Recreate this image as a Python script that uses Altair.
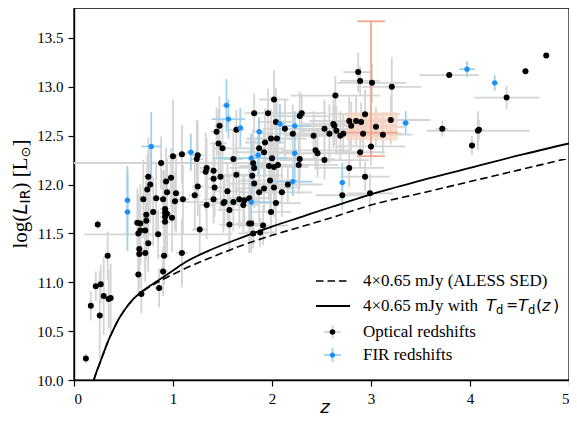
import altair as alt
import pandas as pd

# ---------------- data ----------------
z_opt = [2.02,1.82,1.96,1.47,1.44,1.64,2.30,2.28,2.13,2.04,
         2.42,2.53,1.93,1.99,2.05,1.46,1.50,1.87,1.92,2.21,
         2.44,2.46,1.09,1.00,1.25,1.24,1.61,0.88,2.00,2.28,
         2.27,2.53,1.97,2.02,2.06,1.81,1.82,1.80,0.75,0.98,
         0.93,1.33,1.34,1.41,1.48,1.41,1.64,1.82,1.98,2.16,
         1.92,2.02,1.87,2.10,0.77,0.74,0.94,1.03,1.25,1.22,
         1.10,1.02,0.70,0.83,0.90,1.41,1.55,1.67,1.72,1.77,
         2.04,1.52,1.61,1.34,1.42,1.51,1.57,1.71,1.99,1.79,
         1.77,1.57,1.27,0.85,0.67,0.64,0.72,0.67,0.65,0.80,
         0.73,0.73,0.92,0.92,0.94,0.92,0.92,0.99,0.75,0.66,
         0.72,0.66,0.91,1.09,0.90,0.65,0.68,0.86,0.24,0.34,
         0.22,0.27,0.30,0.35,0.37,0.17,0.26,0.12,1.91,1.81,
         1.88,2.87,2.89,3.01,3.21,2.64,2.94,2.78,2.85,2.90,
         2.80,3.20,3.05,2.62,2.63,2.58,2.65,2.72,2.69,2.92,
         3.12,3.00,2.89,2.78,2.94,2.71,2.99,3.79,4.56,4.77,
         4.37,3.72,4.08,4.09,4.02]
L_opt = [12.87,12.73,12.73,12.60,12.54,12.56,12.73,12.70,12.57,12.64,
         12.50,12.57,12.43,12.47,12.47,12.42,12.37,12.37,12.33,12.52,
         12.35,12.32,12.31,12.29,12.30,12.26,12.26,12.22,12.27,12.26,
         12.20,12.25,12.19,12.18,12.20,12.22,12.17,12.09,12.08,12.07,
         12.03,12.13,12.17,12.14,12.08,12.06,12.10,12.01,12.04,12.00,
         11.96,11.97,11.92,11.92,12.00,11.95,11.92,11.91,11.98,11.89,
         11.85,11.83,11.85,11.86,11.85,11.85,11.93,11.85,11.84,11.86,
         11.81,11.82,11.82,11.79,11.97,11.81,11.74,11.79,11.72,11.60,
         11.60,11.59,11.54,11.49,11.60,11.61,11.53,11.53,11.50,11.72,
         11.69,11.63,11.75,11.71,11.70,11.62,11.67,11.66,11.40,11.34,
         11.30,11.29,11.27,11.30,11.11,11.08,10.88,10.94,11.59,11.27,
         10.96,10.98,10.86,10.83,10.84,10.76,10.66,10.22,11.58,11.50,
         11.51,13.15,13.06,13.04,13.00,12.91,12.72,12.65,12.65,12.64,
         12.60,12.66,12.59,12.62,12.60,12.52,12.55,12.52,12.50,12.52,
         12.51,12.39,12.33,12.17,12.08,11.89,11.91,13.12,13.16,13.32,
         12.89,12.57,12.55,12.56,12.40]
zerr_opt = [0.15,0.10,0.12,0.05,0.06,0.08,0.25,0.30,0.20,0.18,
            0.30,0.40,0.20,0.25,0.30,0.08,0.10,0.25,0.30,0.35,
            0.35,0.40,0.05,0.05,0.06,0.07,0.10,0.90,0.30,0.35,
            0.40,0.45,0.30,0.35,0.30,0.20,0.25,0.30,0.05,0.05,
            0.04,0.06,0.07,0.08,0.10,0.08,0.12,0.25,0.30,0.35,
            0.30,0.25,0.20,0.30,0.04,0.04,0.05,0.05,0.06,0.06,
            0.06,0.05,0.04,0.05,0.05,0.10,0.15,0.12,0.15,0.20,
            0.25,0.40,0.10,0.08,0.08,0.10,0.12,0.15,0.20,0.15,
            0.12,0.10,0.08,0.75,0.04,0.04,0.04,0.04,0.04,0.05,
            0.04,0.04,0.05,0.05,0.05,0.05,0.05,0.05,0.05,0.04,
            0.04,0.04,0.05,0.06,0.05,0.04,0.04,0.05,0.02,0.03,
            0.02,0.02,0.02,0.03,0.03,0.02,0.02,0.02,0.25,0.15,
            0.15,0.15,0.20,0.35,0.30,0.45,0.35,0.40,0.30,0.25,
            0.45,0.40,0.30,0.35,0.40,0.45,0.35,0.30,0.45,0.40,
            0.30,0.35,0.25,0.35,0.25,0.27,0.23,0.30,0.03,0.02,
            0.33,0.06,0.52,0.05,0.03]
Lerr_opt = [0.30,0.20,0.25,0.30,0.25,0.20,0.20,0.25,0.30,0.35,
            0.25,0.30,0.35,0.30,0.40,0.35,0.30,0.30,0.25,0.30,
            0.20,0.25,0.30,0.58,0.35,0.40,0.30,0.27,0.35,0.30,
            0.30,0.20,0.35,0.30,0.25,0.35,0.30,0.30,0.40,0.30,
            0.35,0.40,0.30,0.30,0.35,0.30,0.30,0.25,0.30,0.20,
            0.25,0.30,0.30,0.25,0.40,0.35,0.35,0.40,0.30,0.35,
            0.35,0.30,0.40,0.35,0.30,0.25,0.30,0.30,0.25,0.30,
            0.30,0.25,0.30,0.35,0.30,0.30,0.35,0.30,0.25,0.30,
            0.30,0.30,0.25,0.25,0.40,0.35,0.40,0.35,0.40,0.35,
            0.35,0.40,0.40,0.35,0.45,0.35,0.40,0.35,0.30,0.30,
            0.30,0.35,0.30,0.35,0.25,0.20,0.20,0.20,0.05,0.25,
            0.15,0.20,0.40,0.30,0.35,0.15,0.45,0.05,0.20,0.15,
            0.15,0.20,0.15,0.20,0.30,0.20,0.25,0.25,0.25,0.20,
            0.25,0.25,0.20,0.25,0.20,0.30,0.25,0.20,0.25,0.20,
            0.20,0.20,0.15,0.20,0.15,0.15,0.20,0.03,0.03,0.03,
            0.12,0.08,0.20,0.10,0.10]

z_fir = [0.54,0.54,0.78,1.18,1.54,1.56,1.68,1.87,1.79,1.86,
         2.08,2.23,2.23,2.21,1.79,3.35,2.71,3.97,4.25]
L_fir = [11.84,11.72,12.39,12.33,12.81,12.67,12.58,12.54,12.27,12.30,
         12.62,12.60,12.32,12.03,11.82,12.63,12.02,13.18,13.04]
zerr_fir = [0.03,0.03,0.10,0.04,0.04,0.17,0.03,0.04,0.37,0.04,
            0.05,0.15,0.03,0.20,0.30,0.04,0.03,0.08,0.03]
Lerr_fir = [0.35,0.40,0.35,0.19,0.27,0.20,0.20,0.15,0.25,0.20,
            0.20,0.15,0.30,0.15,0.20,0.12,0.20,0.08,0.08]

# stacked point (salmon box + error bar)
stack_z = [3.00]
stack_L = [12.53]
stack_box_z = [2.75, 3.27]
stack_box_L = [12.45, 12.74]
stack_err_L = [12.29, 13.67]
stack_cap = [0.14]

# model curves
z_solid = [0.20,0.23,0.26,0.30,0.35,0.40,0.45,0.50,0.55,0.60,0.70,0.80,0.90,1.00,1.10,1.40,1.65,2.00,2.30,2.60,3.00,3.50,4.00,4.50,5.00]
L_solid = [10.00,10.09,10.17,10.28,10.41,10.52,10.62,10.70,10.77,10.83,10.915,10.985,11.05,11.12,11.19,11.34,11.44,11.57,11.67,11.77,11.90,12.04,12.17,12.30,12.42]
z_dash = [0.20,0.23,0.26,0.30,0.35,0.40,0.45,0.50,0.55,0.60,0.70,0.80,0.90,1.00,1.10,1.40,1.65,2.00,2.30,2.60,3.00,3.50,4.00,4.50,5.00]
L_dash = [10.00,10.09,10.17,10.28,10.41,10.52,10.62,10.70,10.77,10.83,10.91,10.975,11.03,11.08,11.13,11.26,11.36,11.48,11.57,11.66,11.79,11.91,12.03,12.15,12.27]

x_ticks = [0, 1, 2, 3, 4, 5]
y_ticks = [10.0, 10.5, 11.0, 11.5, 12.0, 12.5, 13.0, 13.5]
legend_labels = ["4×0.65 mJy (ALESS SED)", "4×0.65 mJy with ", "Optical redshifts", "FIR redshifts"]

# ---------------- build ----------------
GRAY = "#d4d4d4"
LBLUE = "#9fd2ea"
BLUE = "#1e8ff5"
SALMON = "#f5a58a"
SALMON_FILL = "#fbd3c2"

opt = pd.DataFrame({"z": z_opt, "L": L_opt, "ze": zerr_opt, "Le": Lerr_opt})
opt["zlo"] = opt.z - opt.ze
opt["zhi"] = opt.z + opt.ze
opt["Llo"] = opt.L - opt.Le
opt["Lhi"] = opt.L + opt.Le

fir = pd.DataFrame({"z": z_fir, "L": L_fir, "ze": zerr_fir, "Le": Lerr_fir})
fir["zlo"] = fir.z - fir.ze
fir["zhi"] = fir.z + fir.ze
fir["Llo"] = fir.L - fir.Le
fir["Lhi"] = fir.L + fir.Le

box = pd.DataFrame({"z": [stack_box_z[0]], "z2": [stack_box_z[1]],
                    "L": [stack_box_L[0]], "L2": [stack_box_L[1]]})
sv = pd.DataFrame({"z": stack_z, "L": [stack_err_L[0]], "L2": [stack_err_L[1]]})
scap = pd.DataFrame({"z": [stack_z[0] - stack_cap[0]] * 2, "z2": [stack_z[0] + stack_cap[0]] * 2,
                     "L": stack_err_L})
sh = pd.DataFrame({"z": [stack_box_z[0]], "z2": [stack_box_z[1]], "L": stack_L})

solid = pd.DataFrame({"z": z_solid, "L": L_solid})
dash = pd.DataFrame({"z": z_dash, "L": L_dash})

xs = alt.Scale(domain=[0, 5], nice=False, zero=False)
ys = alt.Scale(domain=[10.0, 13.806], nice=False, zero=False)
xax = alt.Axis(values=x_ticks, format="d", title=None, labelPadding=5)
yax = alt.Axis(values=y_ticks, format=".1f", title=None, labelPadding=5)

def X(f="z"):
    return alt.X(f + ":Q", scale=xs, axis=xax)

def Y(f="L"):
    return alt.Y(f + ":Q", scale=ys, axis=yax)

layers = []
layers.append(alt.Chart(opt).mark_rule(color=GRAY, strokeWidth=1.8, clip=True)
              .encode(x=X("zlo"), x2="zhi:Q", y=Y("L")))
layers.append(alt.Chart(opt).mark_rule(color=GRAY, strokeWidth=1.8, clip=True)
              .encode(x=X("z"), y=Y("Llo"), y2="Lhi:Q"))
layers.append(alt.Chart(fir).mark_rule(color=LBLUE, strokeWidth=1.8, clip=True)
              .encode(x=X("zlo"), x2="zhi:Q", y=Y("L")))
layers.append(alt.Chart(fir).mark_rule(color=LBLUE, strokeWidth=1.8, clip=True)
              .encode(x=X("z"), y=Y("Llo"), y2="Lhi:Q"))
layers.append(alt.Chart(box).mark_rect(color=SALMON_FILL, opacity=0.75)
              .encode(x=X("z"), x2="z2:Q", y=Y("L"), y2="L2:Q"))
layers.append(alt.Chart(sv).mark_rule(color=SALMON, strokeWidth=1.8)
              .encode(x=X("z"), y=Y("L"), y2="L2:Q"))
layers.append(alt.Chart(scap).mark_rule(color=SALMON, strokeWidth=1.8)
              .encode(x=X("z"), x2="z2:Q", y=Y("L")))
layers.append(alt.Chart(sh).mark_rule(color=SALMON, strokeWidth=1.8)
              .encode(x=X("z"), x2="z2:Q", y=Y("L")))
layers.append(alt.Chart(opt).mark_circle(color="black", opacity=1, size=36)
              .encode(x=X("z"), y=Y("L")))
layers.append(alt.Chart(fir).mark_circle(color=BLUE, opacity=1, size=28)
              .encode(x=X("z"), y=Y("L")))
layers.append(alt.Chart(dash).mark_line(color="black", strokeWidth=1.6, strokeDash=[7.5, 4],
                                        interpolate="monotone", clip=True)
              .encode(x=X("z"), y=Y("L")))
layers.append(alt.Chart(solid).mark_line(color="black", strokeWidth=1.8, interpolate="monotone", clip=True)
              .encode(x=X("z"), y=Y("L")))

one = pd.DataFrame({"a": [0]})

def txt(s, x, y, font="Liberation Serif", size=17, style="normal", align="left", angle=0):
    return alt.Chart(one).mark_text(text=s, font=font, fontSize=size, fontStyle=style,
                                    align=align, baseline="middle", angle=angle, color="black").encode(
        x=alt.value(x), y=alt.value(y))

# legend (positions in plot pixels)
layers.append(alt.Chart(one).mark_rule(color="black", strokeWidth=1.6, strokeDash=[7.5, 4])
              .encode(x=alt.value(242), x2=alt.value(276), y=alt.value(273)))
layers.append(alt.Chart(one).mark_rule(color="black", strokeWidth=1.8)
              .encode(x=alt.value(242), x2=alt.value(276), y=alt.value(298)))
for yy, cbar, cpt, sz in [(324, GRAY, "black", 30), (347, LBLUE, BLUE, 26)]:
    layers.append(alt.Chart(one).mark_rule(color=cbar, strokeWidth=1.8)
                  .encode(x=alt.value(250), x2=alt.value(267), y=alt.value(yy)))
    layers.append(alt.Chart(one).mark_rule(color=cbar, strokeWidth=1.8)
                  .encode(x=alt.value(258.5), y=alt.value(yy - 7), y2=alt.value(yy + 7)))
    layers.append(alt.Chart(one).mark_circle(color=cpt, opacity=1, size=sz)
                  .encode(x=alt.value(258.5), y=alt.value(yy)))

layers.append(txt(legend_labels[0], 289, 273))
layers.append(txt(legend_labels[1], 289, 298))
layers.append(txt("T", 412, 298, font="DejaVu Sans", size=16, style="italic"))
layers.append(txt("d", 422, 303, font="DejaVu Sans", size=11.5))
layers.append(txt("=", 438, 298, font="DejaVu Sans", size=14, align="center"))
layers.append(txt("T", 444, 298, font="DejaVu Sans", size=16, style="italic"))
layers.append(txt("d", 454, 303, font="DejaVu Sans", size=11.5))
layers.append(txt("(", 462, 298, font="DejaVu Sans", size=16))
layers.append(txt("z", 468, 298, font="DejaVu Sans", size=16, style="italic"))
layers.append(txt(")", 479, 298, font="DejaVu Sans", size=16))
layers.append(txt(legend_labels[2], 289, 324))
layers.append(txt(legend_labels[3], 289, 347))

# axis titles
layers.append(txt("z", 251, 400, font="DejaVu Sans", size=18, style="italic", align="center"))
layers.append(txt("log(", -53, 240.5, size=21, angle=270))
layers.append(txt("L", -53, 206.5, font="DejaVu Sans", size=20, style="italic", angle=270))
layers.append(txt("IR", -48, 195.5, font="DejaVu Sans", size=14, angle=270))
layers.append(txt(") [L", -53, 181.5, size=21, angle=270))
layers.append(txt("⊙", -48, 149.5, font="DejaVu Sans", size=13, angle=270))
layers.append(txt("]", -53, 138.5, size=21, angle=270))

chart = alt.layer(*layers).properties(
    width=495, height=372,
    padding={"left": 66, "top": 0, "right": 0, "bottom": 37},
    autosize=alt.AutoSizeParams(type="none"),
).configure_view(stroke="black", strokeWidth=1.4).configure_axis(
    domainColor="black", domainWidth=1.4, tickColor="black", tickSize=6, tickWidth=1.2,
    labelFont="Liberation Serif", labelFontSize=15, labelColor="black", grid=False,
)

chart.save("out.html", embed_options={"renderer": "svg", "actions": False})
